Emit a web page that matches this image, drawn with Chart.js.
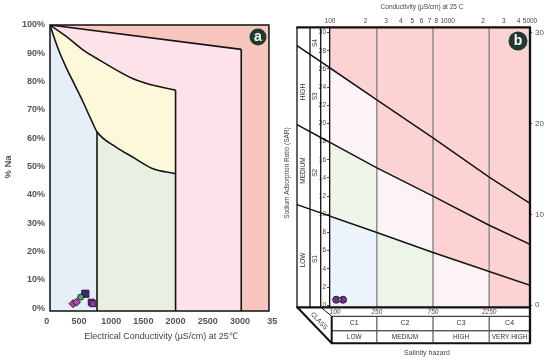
<!DOCTYPE html>
<html>
<head>
<meta charset="utf-8">
<script src="https://cdn.jsdelivr.net/npm/chart.js@4.4.0/dist/chart.umd.min.js"></script>
<style>
  body { margin: 0; background: #fff; width: 550px; height: 362px; overflow: hidden; position: relative; }
  #graficoA { position: absolute; left: 0; top: 0; }
  #graficoB { position: absolute; left: 282px; top: 0; }
</style>
</head>
<body>
<canvas id="graficoA" width="282" height="362"></canvas>
<canvas id="graficoB" width="268" height="362"></canvas>
<script>
// ---- Panel (a): diagrama de Wilcox ----
const ticksCE_a = [0, 500, 1000, 1500, 2000, 2500, 3000, 3500];
const etiquetasCE_a = ['0', '500', '1000', '1500', '2000', '2500', '3000', '35'];
const ticksNa_a = [0, 10, 20, 30, 40, 50, 60, 70, 80, 90, 100];

// curvas límite (CE en µS/cm, %Na)
const curvaInferiorCE = [50, 127, 204, 307, 435, 562, 692, 780, 1076, 1332, 1639, 2000];
const curvaInferiorNa = [100, 94.7, 90.0, 84.7, 78.8, 72.9, 66.4, 62.3, 56.9, 53.4, 49.3, 47.5];
const curvaSuperiorCE = [50, 307, 562, 819, 1332, 1639, 2000];
const curvaSuperiorNa = [100, 95.9, 91.2, 87.6, 81.1, 78.8, 77.0];
const lineaSuperiorCE = [50, 3020];
const lineaSuperiorNa = [100, 91.4];
const corteAzulVerde = 780;
// verticales
const vertical1CE = [780, 780];
const vertical1Na = [-1, 62.3];
const vertical2CE = [2000, 2000];
const vertical2Na = [-1, 77.0];
const vertical3CE = [3020, 3020];
const vertical3Na = [-1, 91.4];

// muestras
const muestraMoradaCE = [599];
const muestraMoradaNa = [5.1];
const muestraVerdeCE = [527];
const muestraVerdeNa = [3.9];
const muestraMagentaCE = [408, 461];
const muestraMagentaNa = [1.6, 2.1];
const muestraVioletaCE = [692, 716];
const muestraVioletaNa = [2.1, 1.6];

// ---- Panel (b): diagrama USSL ----
const ticksCE_b = [100, 200, 300, 400, 500, 600, 700, 800, 1000, 2000, 3000, 4000, 5000];
const etiquetasCE_b = ['100', '2', '3', '4', '5', '6', '7', '8', '1000', '2', '3', '4', '5000'];
const ticksSAR_izq = [0, 2, 4, 6, 8, 10, 12, 14, 16, 18, 20, 22, 24, 26, 28, 30];
const ticksSAR_der = [0, 10, 20, 30];
const ceColumnas = [100, 250, 750, 2250, 5000];
const sarLinea1 = [9.8, 8.0, 5.8, 3.7, 2.2];
const sarLinea2 = [17.9, 15.1, 12.0, 8.8, 6.7];
const sarLinea3 = [26.1, 22.6, 18.4, 14.1, 11.2];
const clasesC = ['C1', 'C2', 'C3', 'C4'];
const nivelesSalinidad = ['LOW', 'MEDIUM', 'HIGH', 'VERY HIGH'];
const nivelesSodio = ['LOW', 'MEDIUM', 'HIGH', ''];
const clasesS = ['S1', 'S2', 'S3', 'S4'];
const ticksTabla = [100, 250, 750, 2250];
const muestraB_CE = [113, 129];
const muestraB_SAR = [0.6, 0.6];
const muestraB2_CE = [121];
const muestraB2_SAR = [0.6];

const coloresClaseB = ['#edf3fa', '#edf4e8', '#fcf3f7', '#fcd2d3'];

Chart.defaults.font.family = "'Liberation Sans', 'DejaVu Sans', sans-serif";

function puntos(xs, ys) {
    return xs.map((v, i) => ({ x: v, y: ys[i] }));
}

function curva(xs, ys, color, suave) {
    return {
        data: puntos(xs, ys),
        fill: { value: -1 },
        backgroundColor: color,
        borderColor: '#151515',
        borderWidth: 1.6,
        pointRadius: 0,
        cubicInterpolationMode: suave ? 'monotone' : 'default',
        tension: 0
    };
}

function recta(xs, ys) {
    return {
        data: puntos(xs, ys),
        fill: false,
        borderColor: '#151515',
        borderWidth: 1.6,
        pointRadius: 0
    };
}

function marcador(xs, ys, estilo, color, radio) {
    return {
        data: puntos(xs, ys),
        showLine: false,
        fill: false,
        pointStyle: estilo,
        pointRadius: radio,
        pointBackgroundColor: color,
        pointBorderColor: '#2a1838',
        pointBorderWidth: 1
    };
}

function texto(ctx, str, x, y, font, color, ang, align) {
    ctx.save();
    ctx.translate(x, y);
    if (ang) ctx.rotate(ang);
    ctx.font = font;
    ctx.fillStyle = color;
    ctx.textAlign = align || 'center';
    ctx.textBaseline = 'middle';
    ctx.fillText(str, 0, 0);
    ctx.restore();
}

function insignia(ctx, x, y, r, letra) {
    ctx.save();
    ctx.beginPath();
    ctx.arc(x, y, r, 0, Math.PI * 2);
    ctx.fillStyle = '#1f3b30';
    ctx.fill();
    ctx.restore();
    texto(ctx, letra, x, y + 0.5, "bold 14px 'Liberation Sans'", '#fff');
}

function linea(sar) {
    return {
        data: puntos(ceColumnas, sar),
        borderColor: '#151515',
        borderWidth: 1.5,
        pointRadius: 0,
        fill: false,
        tension: 0
    };
}

// Decoración del panel (a)
const decoradoA = {
    id: 'decoradoA',
    beforeDraw(chart) {
        const { ctx, chartArea: ca } = chart;
        ctx.save();
        ctx.fillStyle = '#f8c6bf';
        ctx.fillRect(ca.left, ca.top, ca.right - ca.left, ca.bottom - ca.top);
        ctx.restore();
    },
    afterDraw(chart) {
        const { ctx, chartArea: ca } = chart;
        ctx.save();
        ctx.strokeStyle = '#111';
        ctx.lineWidth = 1.5;
        ctx.strokeRect(ca.left, ca.top, ca.right - ca.left, ca.bottom - ca.top);
        ctx.restore();
        texto(ctx, '% Na', 8, 167, "bold 9.5px 'Liberation Sans'", '#555', -Math.PI / 2);
        texto(ctx, 'Electrical Conductivity (µS/cm) at 25℃', 161, 337, "9px 'Liberation Sans'", '#444');
        insignia(ctx, 258, 37, 8.5, 'a');
    }
};

// Decoración del panel (b)
const decoradoB = {
    id: 'decoradoB',
    beforeDraw(chart) {
        const { ctx, chartArea: ca, scales: { x, y } } = chart;
        const lineas = [sarLinea1, sarLinea2, sarLinea3];
        ctx.save();
        for (let c = 0; c < ceColumnas.length - 1; c++) {
            const x0 = x.getPixelForValue(ceColumnas[c]);
            const x1 = x.getPixelForValue(ceColumnas[c + 1]);
            for (let b = 0; b <= lineas.length; b++) {
                const abajo = b === 0 ? [ca.bottom, ca.bottom]
                    : [y.getPixelForValue(lineas[b - 1][c]), y.getPixelForValue(lineas[b - 1][c + 1])];
                const arriba = b === lineas.length ? [ca.top, ca.top]
                    : [y.getPixelForValue(lineas[b][c]), y.getPixelForValue(lineas[b][c + 1])];
                ctx.fillStyle = coloresClaseB[Math.min(c + b, 3)];
                ctx.beginPath();
                ctx.moveTo(x0 - 0.3, abajo[0] + 0.3);
                ctx.lineTo(x1 + 0.3, abajo[1] + 0.3);
                ctx.lineTo(x1 + 0.3, arriba[1] - 0.3);
                ctx.lineTo(x0 - 0.3, arriba[0] - 0.3);
                ctx.closePath();
                ctx.fill();
            }
        }
        // separadores de columnas C1..C4
        ctx.strokeStyle = '#8c8c8c';
        ctx.lineWidth = 1.5;
        for (let c = 1; c < ceColumnas.length - 1; c++) {
            const px = x.getPixelForValue(ceColumnas[c]);
            ctx.beginPath();
            ctx.moveTo(px, ca.top);
            ctx.lineTo(px, ca.bottom);
            ctx.stroke();
        }
        ctx.restore();
    },
    afterDraw(chart) {
        const { ctx, chartArea: ca, scales: { x, y } } = chart;
        const L = ca.left, R = ca.right, T = ca.top, B = ca.bottom;
        const c1 = L - 33, c2 = L - 20, c3 = L - 9.3;
        const lineas = [sarLinea1, sarLinea2, sarLinea3];
        ctx.save();
        ctx.strokeStyle = '#111';

        // prolongación de las líneas en las columnas de la izquierda
        const extremo = [];
        ctx.lineWidth = 1.5;
        lineas.forEach(l => {
            const px0 = x.getPixelForValue(ceColumnas[0]), py0 = y.getPixelForValue(l[0]);
            const px1 = x.getPixelForValue(ceColumnas[1]), py1 = y.getPixelForValue(l[1]);
            const m = (py1 - py0) / (px1 - px0);
            extremo.push(xx => py0 + m * (xx - px0));
            ctx.beginPath();
            ctx.moveTo(c1, py0 + m * (c1 - px0));
            ctx.lineTo(px0, py0);
            ctx.stroke();
        });

        // columnas verticales
        ctx.lineWidth = 1.3;
        [c1, c2, c3].forEach(cx => {
            ctx.beginPath();
            ctx.moveTo(cx, T - 1);
            ctx.lineTo(cx, B);
            ctx.stroke();
        });

        // marco
        ctx.lineWidth = 2.3;
        ctx.beginPath();
        ctx.moveTo(c1 - 0.6, T - 0.6);
        ctx.lineTo(R + 1, T - 0.6);
        ctx.moveTo(R, T - 1.5);
        ctx.lineTo(R, B + 36.3);
        ctx.moveTo(c1 - 0.6, B + 0.4);
        ctx.lineTo(R + 1, B + 0.4);
        ctx.stroke();

        // tabla de clases de salinidad
        const r1 = B + 9.3, r2 = B + 23.8, r3 = B + 36.3, xl = L + 1.7;
        ctx.lineWidth = 1;
        ctx.beginPath();
        ctx.moveTo(c3, B);
        ctx.lineTo(xl, r1);
        ctx.moveTo(xl, r1);
        ctx.lineTo(R, r1);
        ctx.moveTo(xl, r2);
        ctx.lineTo(R, r2);
        ctx.stroke();
        ctx.lineWidth = 2;
        ctx.beginPath();
        ctx.moveTo(c1, B);
        ctx.lineTo(xl, r3);
        ctx.lineTo(R + 1, r3);
        ctx.moveTo(xl, r1);
        ctx.lineTo(xl, r3);
        ctx.stroke();
        ctx.strokeStyle = '#555';
        ctx.lineWidth = 1.2;
        const bordes = [xl];
        for (let c = 1; c < ceColumnas.length - 1; c++) {
            const px = x.getPixelForValue(ceColumnas[c]);
            bordes.push(px);
            ctx.beginPath();
            ctx.moveTo(px, r1);
            ctx.lineTo(px, r3);
            ctx.stroke();
        }
        bordes.push(R);
        ctx.restore();

        const fuente = "6.5px 'Liberation Sans'";
        ticksTabla.forEach((v, i) => {
            const px = i === 0 ? L + 5 : x.getPixelForValue(v);
            texto(ctx, String(v), px, B + 5, "italic " + fuente, '#444');
        });
        for (let c = 0; c < clasesC.length; c++) {
            const cx = (bordes[c] + bordes[c + 1]) / 2;
            texto(ctx, clasesC[c], cx, (r1 + r2) / 2, "7px 'Liberation Sans'", '#333');
            texto(ctx, nivelesSalinidad[c], cx, (r2 + r3) / 2, fuente, '#333');
        }
        texto(ctx, 'CLASS', L - 11, B + 14, fuente, '#333', 0.82);

        // rótulos de las columnas de sodio
        const limites = [B, extremo[0], extremo[1], extremo[2], T];
        const enX = (lim, xx) => typeof lim === 'function' ? lim(xx) : lim;
        for (let s = 0; s < 4; s++) {
            const xa = (c1 + c2) / 2, xb = (c2 + c3) / 2;
            const ya = (enX(limites[s], xa) + enX(limites[s + 1], xa)) / 2 + 3;
            const yb = (enX(limites[s], xb) + enX(limites[s + 1], xb)) / 2;
            if (nivelesSodio[s]) texto(ctx, nivelesSodio[s], xa, ya, fuente, '#333', -Math.PI / 2);
            texto(ctx, clasesS[s], xb, yb, fuente, '#333', -Math.PI / 2);
        }

        texto(ctx, 'Conductivity (µS/cm) at 25 C', 140, 7, fuente, '#444');
        texto(ctx, 'Salinity hazard', 145, 353, "7px 'Liberation Sans'", '#444');
        texto(ctx, 'Sodium Adsorption Ratio (SAR)', 5, 173, fuente, '#444', -Math.PI / 2);
        insignia(ctx, 236, 41, 9.5, 'b');
    }
};

function mostrarPanelA() {
    const inferior = curva(curvaInferiorCE, curvaInferiorNa, '#e6eef7', true);
    // la zona bajo la curva inferior es azul antes del corte y verde después
    inferior.segment = {
        backgroundColor: ctx => ctx.p0.parsed.x < corteAzulVerde ? '#e6eef7' : '#e8f0e1'
    };
    new Chart(document.getElementById('graficoA'), {
        type: 'line',
        data: {
            datasets: [
                marcador(muestraVerdeCE, muestraVerdeNa, 'circle', '#3fb34f', 3),
                marcador(muestraMoradaCE, muestraMoradaNa, 'rect', '#3f2472', 5),
                marcador(muestraMagentaCE, muestraMagentaNa, 'rectRot', '#b048a8', 4),
                marcador(muestraVioletaCE, muestraVioletaNa, 'rect', '#8c3a98', 4.3),
                recta(vertical1CE, vertical1Na),
                recta(vertical2CE, vertical2Na),
                recta(vertical3CE, vertical3Na),
                inferior,
                curva(curvaSuperiorCE, curvaSuperiorNa, '#fdf8d9', true),
                curva(lineaSuperiorCE, lineaSuperiorNa, '#fde2ea', false)
            ]
        },
        options: {
            responsive: false,
            animation: false,
            layout: { padding: { top: 25, right: 11, left: 0, bottom: 0 } },
            plugins: {
                legend: { display: false },
                tooltip: { enabled: false },
                filler: { drawTime: 'beforeDatasetsDraw' }
            },
            scales: {
                x: {
                    type: 'linear',
                    min: 50,
                    max: 3450,
                    afterFit: s => { s.height = 51; },
                    afterBuildTicks: s => { s.ticks = ticksCE_a.map(v => ({ value: v })); },
                    ticks: {
                        autoSkip: false,
                        maxRotation: 0,
                        padding: 5,
                        color: '#555',
                        font: { size: 9, weight: 'bold' },
                        callback: (v, i) => etiquetasCE_a[i]
                    },
                    grid: { display: false, drawTicks: false },
                    border: { display: false }
                },
                y: {
                    min: -1,
                    max: 100,
                    afterFit: s => { s.width = 50; },
                    afterBuildTicks: s => { s.ticks = ticksNa_a.map(v => ({ value: v })); },
                    ticks: {
                        padding: 5,
                        color: '#555',
                        font: { size: 9, weight: 'bold' },
                        callback: v => v + '%'
                    },
                    grid: { display: false, drawTicks: false },
                    border: { display: false }
                }
            }
        },
        plugins: [decoradoA]
    });
}

function mostrarPanelB() {
    new Chart(document.getElementById('graficoB'), {
        type: 'line',
        data: {
            datasets: [
                marcador(muestraB2_CE, muestraB2_SAR, 'circle', '#4cbb50', 1.8),
                marcador(muestraB_CE, muestraB_SAR, 'circle', '#7a2b8e', 3.5),
                linea(sarLinea1),
                linea(sarLinea2),
                linea(sarLinea3)
            ]
        },
        options: {
            responsive: false,
            animation: false,
            layout: { padding: { top: 0, right: 0, left: 0, bottom: 55 } },
            plugins: {
                legend: { display: false },
                tooltip: { enabled: false }
            },
            scales: {
                x: {
                    type: 'logarithmic',
                    position: 'top',
                    min: 100,
                    max: 5000,
                    afterFit: s => { s.height = 28; },
                    afterBuildTicks: s => { s.ticks = ticksCE_b.map(v => ({ value: v })); },
                    ticks: {
                        autoSkip: false,
                        maxRotation: 0,
                        padding: 3,
                        color: '#444',
                        font: { size: 6.5 },
                        callback: (v, i) => etiquetasCE_b[i]
                    },
                    grid: { display: false, drawTicks: false },
                    border: { display: false }
                },
                y: {
                    type: 'linear',
                    position: 'left',
                    min: -0.2,
                    max: 30.5,
                    afterFit: s => { s.width = 48; },
                    afterBuildTicks: s => { s.ticks = ticksSAR_izq.map(v => ({ value: v })); },
                    ticks: { padding: 1, color: '#444', font: { size: 6.5 } },
                    grid: { drawOnChartArea: false, tickLength: 3, color: '#444' },
                    border: { color: '#111', width: 1.3 }
                },
                y2: {
                    type: 'linear',
                    position: 'right',
                    min: -0.2,
                    max: 30.5,
                    afterFit: s => { s.width = 20; },
                    afterBuildTicks: s => { s.ticks = ticksSAR_der.map(v => ({ value: v })); },
                    ticks: { padding: 3, color: '#555', font: { size: 8 } },
                    grid: { drawOnChartArea: false, tickLength: 2, color: '#555' },
                    border: { display: false }
                }
            }
        },
        plugins: [decoradoB]
    });
}

document.addEventListener('DOMContentLoaded', () => {
    mostrarPanelA();
    mostrarPanelB();
});
</script>
</body>
</html>
